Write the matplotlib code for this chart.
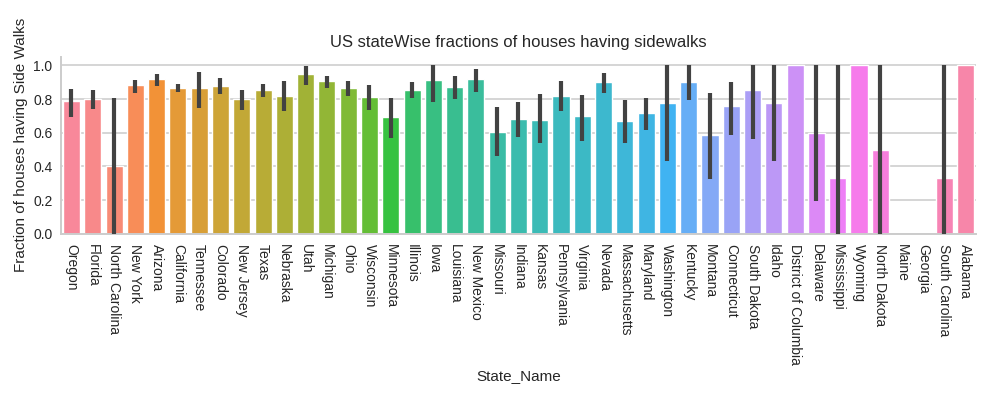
import numpy as np
import matplotlib
matplotlib.use("Agg")
import matplotlib.pyplot as plt
import seaborn as sns

states = ['Oregon', 'Florida', 'North Carolina', 'New York', 'Arizona', 'California',
          'Tennessee', 'Colorado', 'New Jersey', 'Texas', 'Nebraska', 'Utah', 'Michigan',
          'Ohio', 'Wisconsin', 'Minnesota', 'Illinois', 'Iowa', 'Louisiana', 'New Mexico',
          'Missouri', 'Indiana', 'Kansas', 'Pennsylvania', 'Virginia', 'Nevada',
          'Massachusetts', 'Maryland', 'Washington', 'Kentucky', 'Montana', 'Connecticut',
          'South Dakota', 'Idaho', 'District of Columbia', 'Delaware', 'Mississippi',
          'Wyoming', 'North Dakota', 'Maine', 'Georgia', 'South Carolina', 'Alabama']

# mean fraction per state
frac = [0.788, 0.798, 0.40, 0.883, 0.919, 0.868, 0.868, 0.877, 0.798, 0.852, 0.820,
        0.947, 0.905, 0.866, 0.814, 0.694, 0.856, 0.915, 0.871, 0.919, 0.607, 0.684,
        0.674, 0.820, 0.698, 0.903, 0.668, 0.715, 0.778, 0.903, 0.585, 0.757, 0.856,
        0.778, 1.0, 0.60, 0.333, 1.0, 0.50, 0.0, 0.0, 0.333, 1.0]

# confidence interval ends (nan = no error bar)
ci_low = [0.694, 0.739, 0.0, 0.836, 0.876, 0.840, 0.749, 0.830, 0.737, 0.810, 0.731,
          0.886, 0.868, 0.816, 0.737, 0.571, 0.808, 0.781, 0.803, 0.840, 0.459, 0.577,
          0.538, 0.727, 0.549, 0.838, 0.538, 0.615, 0.435, 0.794, 0.324, 0.585, 0.563,
          0.435, np.nan, 0.194, 0.0, np.nan, 0.0, np.nan, np.nan, 0.0, np.nan]
ci_high = [0.862, 0.852, 0.806, 0.915, 0.951, 0.889, 0.960, 0.925, 0.852, 0.887, 0.909,
           0.994, 0.937, 0.909, 0.883, 0.806, 0.899, 1.0, 0.937, 0.978, 0.751, 0.782,
           0.830, 0.909, 0.822, 0.954, 0.794, 0.808, 1.0, 1.0, 0.836, 0.899, 1.0,
           1.0, np.nan, 1.0, 1.0, np.nan, 1.0, np.nan, np.nan, 1.0, np.nan]

sns.set_style("whitegrid")
plt.rcParams['font.family'] = ['Liberation Sans', 'DejaVu Sans']

colors = sns.husl_palette(len(states), l=.7)

fig = plt.figure(figsize=(9.97, 3.95), dpi=100)
ax = fig.add_axes([0.061, 0.408, 0.918, 0.448])

x = np.arange(len(states))
ax.bar(x, frac, width=0.8, color=colors, zorder=2)
ax.vlines(x, ci_low, ci_high, color='#424242', linewidth=3.0, zorder=3)

ax.set_xlim(-0.5, len(states) - 0.5)
ax.set_ylim(0, 1.05)
ax.set_xticks(x)
ax.set_xticklabels(states, rotation=-90, fontsize=10, color='#262626')
ax.set_yticks([0.0, 0.2, 0.4, 0.6, 0.8, 1.0])
ax.set_yticklabels(['0.0', '0.2', '0.4', '0.6', '0.8', '1.0'], fontsize=10, color='#262626')
ax.grid(axis='x', visible=False)
ax.grid(axis='y', color='#d5d5d5', linewidth=1.4)
ax.tick_params(axis='x', length=0, pad=7.5)
ax.tick_params(axis='y', length=0, pad=6)
for s in ['top', 'right']:
    ax.spines[s].set_visible(False)
for s in ['left', 'bottom']:
    ax.spines[s].set_color('#cccccc')
    ax.spines[s].set_linewidth(1.4)

ax.set_title('US stateWise fractions of houses having sidewalks', fontsize=12,
             color='#262626', pad=7)
ax.set_xlabel('State_Name', fontsize=11, color='#262626', labelpad=3)
ax.set_ylabel('Fraction of houses having Side Walks', fontsize=11, color='#262626')

fig.savefig('out.png', dpi=100)
